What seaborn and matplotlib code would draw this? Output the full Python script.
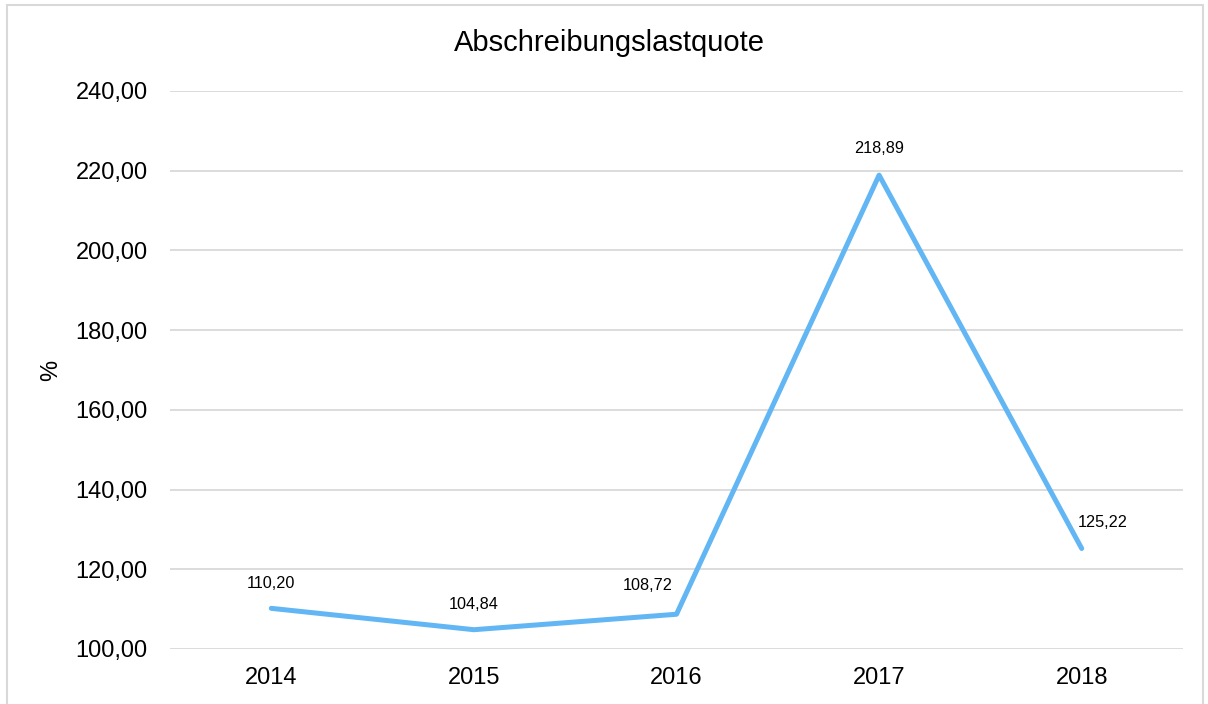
import pandas as pd
import matplotlib
matplotlib.use('Agg')
import matplotlib.pyplot as plt
from matplotlib.ticker import FuncFormatter
from matplotlib.patches import Rectangle
import seaborn as sns

# Chart data
years = ["2014", "2015", "2016", "2017", "2018"]
quote = [110.20, 104.84, 108.72, 218.89, 125.22]
y_ticks = [100, 120, 140, 160, 180, 200, 220, 240]

df = pd.DataFrame({"Jahr": years, "Quote": quote})

sns.set_style("white")
plt.rcParams['font.family'] = ['Liberation Sans', 'DejaVu Sans']
plt.rcParams['text.color'] = "#000000"

fig = plt.figure(figsize=(12.08, 7.04), dpi=100)
ax = fig.add_axes([170 / 1208, 1 - 649 / 704, 1013 / 1208, 558 / 704])

line_color = "#62B6F4"
sns.lineplot(data=df, x="Jahr", y="Quote", color=line_color, linewidth=3.6,
             solid_capstyle="round", solid_joinstyle="round", ax=ax)

# Data labels above points (nudged off the line like the original)
label_offsets = [(0, 18), (0, 18), (-21, 21), (0, 19), (15, 19)]
for i, v in enumerate(quote):
    ax.annotate(f"{v:.2f}".replace(".", ","), (i, v), xytext=label_offsets[i],
                textcoords="offset points", ha="center", va="center",
                fontsize=11.7, color="#000000")

ax.set_xlim(-0.5, len(years) - 0.5)
ax.set_ylim(100, 240)
ax.set_yticks(y_ticks)
ax.yaxis.set_major_formatter(FuncFormatter(lambda v, p: f"{v:.2f}".replace(".", ",")))
ax.grid(axis="y", color="#D9D9D9", linewidth=1.3)
ax.grid(axis="x", visible=False)
ax.set_axisbelow(True)
for s in ax.spines.values():
    s.set_visible(False)
ax.tick_params(axis="both", length=0, labelsize=17, colors="#000000")
ax.tick_params(axis="y", pad=16)
ax.tick_params(axis="x", pad=13)
ax.set_xlabel("")
ax.set_ylabel("%", fontsize=17, labelpad=10, color="#000000")

fig.text(609 / 1208, 1 - 43 / 704, "Abschreibungslastquote", ha="center", va="center",
         fontsize=21, color="#000000")

# Chart frame
fig.add_artist(Rectangle((7.5 / 1208, -0.05), 1195 / 1208, 1.05 - 4.5 / 704,
                         transform=fig.transFigure, fill=False,
                         edgecolor="#D9D9D9", linewidth=1.5))

plt.savefig("out.png", dpi=100)
plt.close()
